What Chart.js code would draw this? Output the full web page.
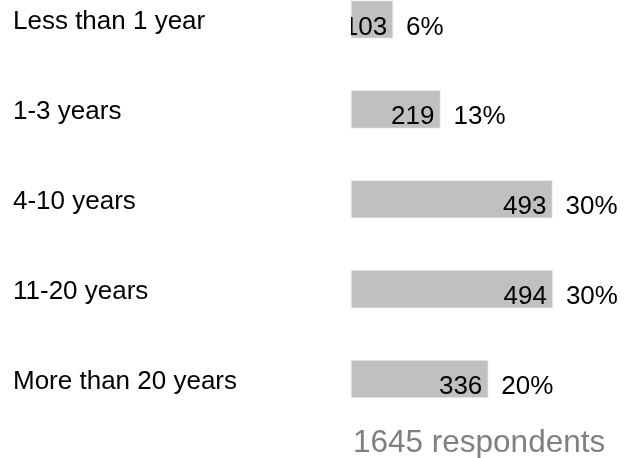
<!DOCTYPE html>
<html>
<head>
<meta charset="utf-8">
<script src="https://cdn.jsdelivr.net/npm/chart.js@4/dist/chart.umd.min.js"></script>
<style>
html,body{margin:0;padding:0;background:#fff;}
#wrap{width:624px;height:458px;}
</style>
</head>
<body>
<div id="wrap"><canvas id="c" width="624" height="458"></canvas></div>
<script>
const categories = ['Less than 1 year', '1-3 years', '4-10 years', '11-20 years', 'More than 20 years'];
const counts = [103, 219, 493, 494, 336];
const totalRespondents = 1645;
const footerText = totalRespondents + ' respondents';

const FONT = '"Liberation Sans", Arial, sans-serif';

const labelPlugin = {
  id: 'barLabels',
  afterDatasetsDraw(chart) {
    const ctx = chart.ctx;
    const meta = chart.getDatasetMeta(0);
    meta.data.forEach((bar, i) => {
      const p = bar.getProps(['x', 'y', 'base', 'height'], true);
      const left = Math.min(p.base, p.x), right = Math.max(p.base, p.x);
      const top = p.y - p.height / 2, bottom = p.y + p.height / 2;
      const v = counts[i];
      ctx.save();
      ctx.beginPath();
      ctx.rect(left, top, right - left, bottom - top);
      ctx.clip();
      ctx.font = '26px ' + FONT;
      ctx.fillStyle = '#000';
      ctx.textAlign = 'right';
      ctx.textBaseline = 'alphabetic';
      ctx.fillText(String(v), right - 6, bottom - 4);
      ctx.restore();
      ctx.save();
      ctx.font = '26px ' + FONT;
      ctx.fillStyle = '#000';
      ctx.textAlign = 'left';
      ctx.textBaseline = 'alphabetic';
      const pct = Math.round(v / totalRespondents * 100) + '%';
      ctx.fillText(pct, right + 13, bottom - 4);
      ctx.restore();
    });
    ctx.save();
    ctx.font = '31.5px ' + FONT;
    ctx.fillStyle = '#808080';
    ctx.textAlign = 'left';
    ctx.textBaseline = 'alphabetic';
    ctx.fillText(footerText, chart.chartArea.left + 2, 452);
    ctx.restore();
  }
};

new Chart(document.getElementById('c'), {
  type: 'bar',
  data: {
    labels: categories,
    datasets: [{
      data: counts,
      backgroundColor: '#c0c0c0',
      borderColor: '#ececec',
      borderWidth: 1,
      borderSkipped: false,
      barThickness: 38,
      clip: false
    }]
  },
  options: {
    indexAxis: 'y',
    responsive: false,
    animation: false,
    devicePixelRatio: 1,
    layout: { padding: { left: 13, top: 19.5, bottom: 79, right: 0 } },
    plugins: { legend: { display: false }, tooltip: { enabled: false } },
    scales: {
      x: { display: false, min: 0, max: 668 },
      y: {
        offset: false,
        grid: { display: false },
        border: { display: false },
        afterFit(scale) { scale.width = 338; },
        ticks: {
          crossAlign: 'far',
          color: '#000',
          labelOffset: 2.5,
          font: { family: FONT, size: 26 }
        }
      }
    }
  },
  plugins: [labelPlugin]
});
</script>
</body>
</html>
